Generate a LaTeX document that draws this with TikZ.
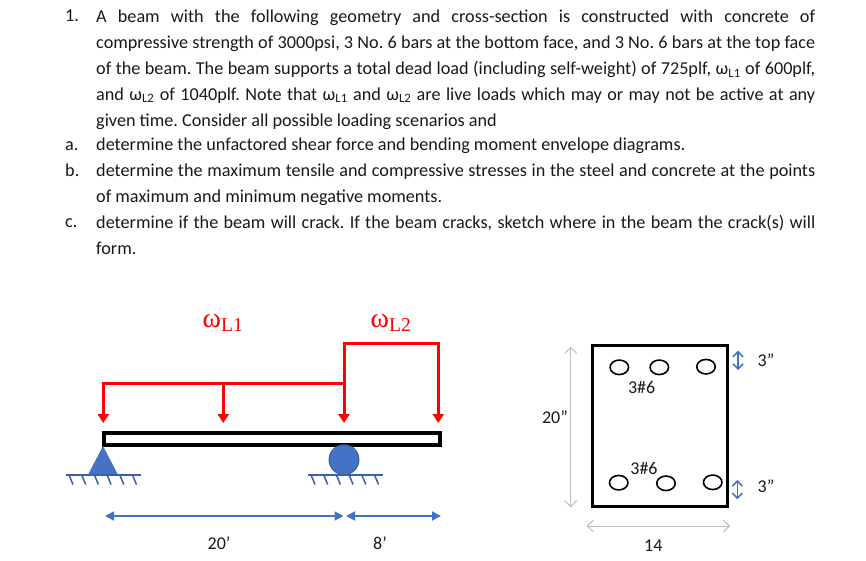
\documentclass[tikz,border=0pt]{standalone}
\usepackage{fontspec}
\setmainfont{Carlito}
\newfontfamily\loadfont{Liberation Serif}
\usetikzlibrary{shapes.geometric, arrows, arrows.meta}
\definecolor{loadred}{RGB}{255,0,0}
\definecolor{supportblue}{RGB}{68,114,196}
\definecolor{dimgrey}{RGB}{190,190,190}
\definecolor{txtgrey}{RGB}{25,25,25}
\frenchspacing
\tikzset{
  para/.style={anchor=north west, inner sep=0, text width=719pt, align=justify, text=txtgrey, font=\fontsize{18.2}{25.8}\selectfont},
  num/.style={anchor=north west, inner sep=0, text=txtgrey, font=\fontsize{18.2}{25.8}\selectfont},
  lbl/.style={inner sep=0, text=txtgrey, font=\fontsize{18}{20}\selectfont},
  loadlbl/.style={inner sep=0, text=loadred, font=\loadfont\fontsize{28}{30}\selectfont},
  loadline/.style={draw=loadred, line width=3pt},
  loadarrow/.style={draw=loadred, line width=3pt, -{Triangle[length=9pt,width=11pt]}},
  dimblue/.style={draw=supportblue, line width=1.8pt, {Triangle[length=9pt,width=9pt]}-{Triangle[length=9pt,width=9pt]}},
  dimgreyarrow/.style={draw=dimgrey, line width=1pt, {Straight Barb[length=6pt,width=12pt]}-{Straight Barb[length=6pt,width=12pt]}},
  cover/.style={draw=supportblue, line width=1.6pt, {Straight Barb[length=5pt,width=10pt]}-{Straight Barb[length=5pt,width=10pt]}},
  rebar/.style={draw=black, ellipse, line width=1.6pt, minimum width=18.5pt, minimum height=14.5pt, inner sep=0},
  ground/.style={draw=supportblue!85!black, line width=1.8pt},
}
\begin{document}
\begin{tikzpicture}[x=1pt, y=-1pt]
        \useasboundingbox (0, 0) rectangle (866, 561);

        % Text
        \node[num] (numone) at (65, 10) {1.};
        \node[para] (question) at (96, 10) {A beam with the following geometry and cross-section is constructed with concrete of\linebreak
          compressive strength of 3000psi, 3 No. 6 bars at the bottom face, and 3 No. 6 bars at the top face\linebreak
          of the beam. The beam supports a total dead load (including self-weight) of 725plf, ω\textsubscript{L1} of 600plf,\linebreak
          and ω\textsubscript{L2} of 1040plf. Note that ω\textsubscript{L1} and ω\textsubscript{L2} are live loads which may or may not be active at any\linebreak
          given time. Consider all possible loading scenarios and};
        \node[num] (numa) at (65, 141) {a.};
        \node[para] (parta) at (96, 137.5) {determine the unfactored shear force and bending moment envelope diagrams.};
        \node[num] (numb) at (65, 163.5) {b.};
        \node[para] (partb) at (96, 163.5) {determine the maximum tensile and compressive stresses in the steel and concrete at the points\linebreak
          of maximum and minimum negative moments.};
        \node[num] (numc) at (65, 218.5) {c.};
        \node[para] (partc) at (96, 215) {determine if the beam will crack. If the beam cracks, sketch where in the beam the crack(s) will\linebreak
          form.};

        % Beam and supports
        \node[draw, rectangle, line width=3.6pt, minimum width=336pt, minimum height=12pt, inner sep=0] (beam) at (271.7, 439) {};
        \node[draw=supportblue!75!black, fill=supportblue, circle, line width=0.8pt, minimum size=30pt, inner sep=0] (roller) at (344, 459.7) {};
        \fill[supportblue] (103, 446) -- (118, 474.7) -- (88, 474.7) -- cycle;
        \coordinate (gndA) at (66, 474.7);
        \coordinate (gndAend) at (141, 474.7);
        \coordinate (gndB) at (308, 474.7);
        \coordinate (gndBend) at (383, 474.7);
        \draw[ground] (gndA) -- (gndAend);
        \draw[ground] (gndB) -- (gndBend);
        \foreach \t in {0,1,...,5} {
          \draw[ground, line width=1.5pt] (69+12.7*\t, 475) -- +(4, 9.5);
          \draw[ground, line width=1.5pt] (311+12.7*\t, 475) -- +(4, 9.5);
        }

        % Loads
        \coordinate (lonestart) at (103.3, 383.3);
        \coordinate (lonemid) at (223.3, 383.3);
        \coordinate (loneend) at (344, 383.3);
        \coordinate (ltwostart) at (344, 343.3);
        \coordinate (ltwoend) at (438.3, 343.3);
        \coordinate (tipA) at (103.3, 423);
        \coordinate (tipB) at (223.3, 423);
        \coordinate (tipC) at (344, 423);
        \coordinate (tipD) at (438.3, 423);
        \draw[loadline, line cap=rect] (lonestart) -- (loneend);
        \draw[loadline, line cap=rect] (ltwostart) -- (ltwoend);
        \draw[loadarrow] (lonestart) -- (tipA);
        \draw[loadarrow] (lonemid) -- (tipB);
        \draw[loadarrow] (ltwostart) -- (tipC);
        \draw[loadarrow] (ltwoend) -- (tipD);
        \node[loadlbl] (omegaone) at (223, 323) {ω\textsubscript{L1}};
        \node[loadlbl] (omegatwo) at (391, 323) {ω\textsubscript{L2}};

        % Span dimensions
        \coordinate (spanA) at (105, 516);
        \coordinate (spanB) at (343.5, 516);
        \coordinate (spanC) at (346, 516);
        \coordinate (spanD) at (441, 516);
        \draw[dimblue] (spanA) -- (spanB);
        \draw[dimblue] (spanC) -- (spanD);
        \node[lbl] (spanone) at (219, 543) {20’};
        \node[lbl] (spantwo) at (380, 543) {8’};

        % Cross-section
        \node[draw, rectangle, line width=3pt, minimum width=134.7pt, minimum height=161.4pt, inner sep=0] (section) at (659.7, 426) {};
        \node[rebar] (topA) at (619.3, 367.3) {};
        \node[rebar] (topB) at (659.3, 367.3) {};
        \node[rebar] (topC) at (706, 366.7) {};
        \node[rebar] (botA) at (618.7, 482.7) {};
        \node[rebar] (botB) at (666, 483.3) {};
        \node[rebar] (botC) at (712.7, 482.3) {};
        \node[lbl] (toplbl) at (641.7, 387.7) {3\#6};
        \node[lbl] (botlbl) at (644, 468.3) {3\#6};

        % Section dimensions
        \coordinate (heightA) at (570.7, 346.7);
        \coordinate (heightB) at (570.7, 507.3);
        \coordinate (widthA) at (586.7, 526);
        \coordinate (widthB) at (730, 526);
        \coordinate (covA) at (738, 350.7);
        \coordinate (covB) at (738, 370);
        \coordinate (covC) at (737.3, 480);
        \coordinate (covD) at (737.3, 499.3);
        \draw[dimgreyarrow] (heightA) -- (heightB);
        \draw[dimgreyarrow] (widthA) -- (widthB);
        \draw[cover] (covA) -- (covB);
        \draw[cover] (covC) -- (covD);
        \node[lbl] (heightlbl) at (555, 417.7) {20”};
        \node[lbl] (widthlbl) at (653.3, 545.7) {14};
        \node[lbl] (covtop) at (766, 360) {3”};
        \node[lbl] (covbot) at (766, 486) {3”};
    \end{tikzpicture}
\end{document}
